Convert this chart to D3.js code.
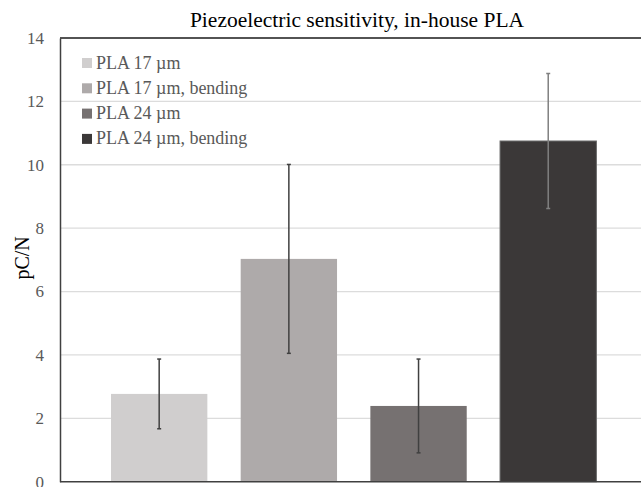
<!DOCTYPE html>
<html>
<head>
<meta charset="utf-8">
<script src="https://cdn.jsdelivr.net/npm/d3@7"></script>
<style>
  body { margin: 0; background: #fff; }
  #chart { width: 641px; height: 487px; }
  text { font-family: "Liberation Serif", "Times New Roman", serif; }
</style>
</head>
<body>
<div id="chart"></div>
<script>

// series, values (pC/N)
const series = ["PLA 17 \u00b5m", "PLA 17 \u00b5m, bending", "PLA 24 \u00b5m", "PLA 24 \u00b5m, bending"];
const values = [2.77, 7.03, 2.39, 10.75];
const errors = [1.1, 2.98, 1.48, 2.13];
const colors = ["#d0cece", "#aeaaaa", "#767171", "#3b3838"];
const errColors = ["#404040", "#404040", "#404040", "#808080"];
const yTicks = [0, 2, 4, 6, 8, 10, 12, 14];

const width = 641;
const height = 487;
const margin = { top: 38, left: 60, right: 0, bottom: 5 };

const svg = d3.select("#chart")
  .append("svg")
  .attr("width", width)
  .attr("height", height);

/*
SCALES
*/
const xScale = d3.scaleBand()
  .domain(series)
  .range([94.4, 613])
  .paddingInner(0.257)
  .paddingOuter(0.128);

const yScale = d3.scaleLinear()
  .domain([0, 14])
  .range([height - margin.bottom - 0.3, margin.top]);

/*
GRIDLINES
*/
svg.append("g")
  .selectAll("line")
  .data(yTicks.filter(d => d > 0 && d < 14))
  .enter()
  .append("line")
  .attr("x1", margin.left)
  .attr("x2", width)
  .attr("y1", d => yScale(d))
  .attr("y2", d => yScale(d))
  .attr("stroke", "#dcdcdc")
  .attr("stroke-width", 1.3);

// top border of plot
svg.append("line")
  .attr("x1", margin.left)
  .attr("x2", width)
  .attr("y1", yScale(14))
  .attr("y2", yScale(14))
  .attr("stroke", "#1a1a1a")
  .attr("stroke-width", 1.5);

/*
BARS
*/
svg.append("g")
  .selectAll("rect")
  .data(series)
  .enter()
  .append("rect")
  .attr("x", d => xScale(d))
  .attr("y", (d, i) => yScale(values[i]))
  .attr("width", xScale.bandwidth())
  .attr("height", (d, i) => yScale(0) - yScale(values[i]))
  .attr("fill", (d, i) => colors[i])
  .attr("stroke", (d, i) => i === 3 ? "#6a6a6a" : "none")
  .attr("stroke-width", 1);

/*
ERROR BARS
*/
const err = svg.append("g")
  .selectAll("g")
  .data(series)
  .enter()
  .append("g")
  .attr("stroke", (d, i) => errColors[i])
  .attr("stroke-width", 1.5);

const cx = d => xScale(d) + xScale.bandwidth() / 2;

err.append("line")
  .attr("x1", cx)
  .attr("x2", cx)
  .attr("y1", (d, i) => yScale(values[i] + errors[i]))
  .attr("y2", (d, i) => yScale(values[i] - errors[i]));

err.append("line")
  .attr("x1", d => cx(d) - 2)
  .attr("x2", d => cx(d) + 2)
  .attr("y1", (d, i) => yScale(values[i] + errors[i]))
  .attr("y2", (d, i) => yScale(values[i] + errors[i]));

err.append("line")
  .attr("x1", d => cx(d) - 2)
  .attr("x2", d => cx(d) + 2)
  .attr("y1", (d, i) => yScale(values[i] - errors[i]))
  .attr("y2", (d, i) => yScale(values[i] - errors[i]));

/*
AXES
*/
const yAxis = svg.append("g")
  .attr("transform", `translate(${margin.left},0)`)
  .call(d3.axisLeft(yScale).tickValues(yTicks).tickSize(0).tickPadding(16));

yAxis.select(".domain").attr("stroke", "#404040").attr("stroke-width", 1.5);
yAxis.selectAll("text")
  .attr("fill", "#595959")
  .style("font-size", "17px")
  .style("font-family", "Liberation Serif, serif");

svg.append("line")
  .attr("x1", margin.left)
  .attr("x2", width)
  .attr("y1", yScale(0))
  .attr("y2", yScale(0))
  .attr("stroke", "#404040")
  .attr("stroke-width", 1.5);

/*
LABELS
*/
svg.append("text")
  .attr("x", 357)
  .attr("y", 27)
  .attr("text-anchor", "middle")
  .attr("fill", "#000")
  .style("font-size", "21.5px")
  .text("Piezoelectric sensitivity, in-house PLA");

svg.append("text")
  .attr("transform", `translate(29,${(yScale(0) + yScale(14)) / 2 - 2}) rotate(-90)`)
  .attr("text-anchor", "middle")
  .attr("fill", "#000")
  .style("font-size", "20px")
  .text("pC/N");

/*
LEGEND
*/
const legend = svg.append("g")
  .selectAll("g")
  .data(series)
  .enter()
  .append("g")
  .attr("transform", (d, i) => `translate(82,${63 + i * 25.3})`);

legend.append("rect")
  .attr("x", 0)
  .attr("y", -5)
  .attr("width", 10)
  .attr("height", 10)
  .attr("fill", (d, i) => colors[i]);

legend.append("text")
  .attr("x", 14)
  .attr("y", 5.5)
  .attr("fill", "#595959")
  .style("font-size", "18px")
  .text(d => d);

</script>
</body>
</html>
